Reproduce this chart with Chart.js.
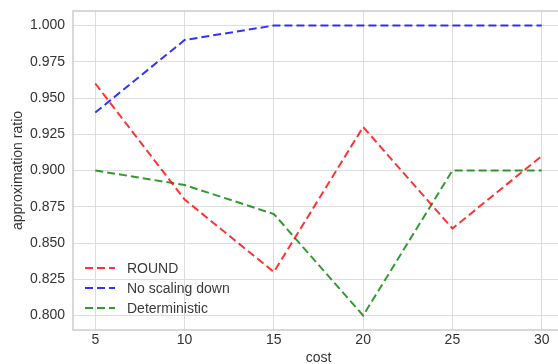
<!DOCTYPE html>
<html>
<head>
<meta charset="utf-8">
<script src="https://cdn.jsdelivr.net/npm/chart.js@4"></script>
<style>
  html, body { margin: 0; padding: 0; background: #fff; overflow: hidden; }
</style>
</head>
<body>
<canvas id="ratioChart" width="580" height="364"></canvas>
<script>
// data
const costs = [5, 10, 15, 20, 25, 30];
const roundRatio = [0.96, 0.88, 0.83, 0.93, 0.86, 0.91];
const noScalingRatio = [0.94, 0.99, 1.00, 1.00, 1.00, 1.00];
const deterministicRatio = [0.90, 0.89, 0.87, 0.80, 0.90, 0.90];
const yTicks = [0.800, 0.825, 0.850, 0.875, 0.900, 0.925, 0.950, 0.975, 1.000];

const FONT = "'Liberation Sans', Arial, sans-serif";

function toPoints(ys) {
    return costs.map((c, i) => ({x: c, y: ys[i]}));
}

function line(label, ys, color) {
    return {
        label: label,
        data: toPoints(ys),
        borderColor: color,
        backgroundColor: color,
        borderWidth: 2,
        borderDash: [8, 4],
        pointRadius: 0,
        tension: 0,
        fill: false
    };
}

// frame around the plot area (top spine too)
const framePlugin = {
    id: 'frame',
    beforeDatasetsDraw(chart) {
        const a = chart.chartArea, c = chart.ctx;
        c.save();
        c.strokeStyle = '#cccccc';
        c.lineWidth = 1.5;
        c.strokeRect(a.left, a.top, a.right - a.left, a.bottom - a.top);
        c.restore();
    }
};

// legend inside the plot, lower left, no box
const innerLegend = {
    id: 'innerLegend',
    afterDatasetsDraw(chart) {
        const a = chart.chartArea, c = chart.ctx;
        const sets = chart.data.datasets;
        c.save();
        c.font = '14px ' + FONT;
        c.textBaseline = 'middle';
        sets.forEach((ds, i) => {
            const y = a.bottom - 22 - (sets.length - 1 - i) * 20;
            const x = a.left + 12;
            c.strokeStyle = ds.borderColor;
            c.lineWidth = 2;
            c.setLineDash([8, 4]);
            c.beginPath();
            c.moveTo(x, y);
            c.lineTo(x + 30, y);
            c.stroke();
            c.setLineDash([]);
            c.fillStyle = '#3a3a3a';
            c.fillText(ds.label, x + 42, y + 1);
        });
        c.restore();
    }
};

const ctx = document.getElementById('ratioChart').getContext('2d');
new Chart(ctx, {
    type: 'line',
    data: {
        datasets: [
            line('ROUND', roundRatio, 'rgba(255, 0, 0, 0.8)'),
            line('No scaling down', noScalingRatio, 'rgba(0, 0, 255, 0.8)'),
            line('Deterministic', deterministicRatio, 'rgba(0, 128, 0, 0.8)')
        ]
    },
    options: {
        responsive: false,
        animation: false,
        layout: { padding: { top: 11, right: 16, left: 0, bottom: 0 } },
        plugins: {
            legend: { display: false },
            tooltip: { enabled: false }
        },
        scales: {
            x: {
                type: 'linear',
                min: 3.75,
                max: 31.25,
                afterBuildTicks: axis => { axis.ticks = costs.map(v => ({value: v})); },
                afterFit: s => { s.height = 34; s.paddingLeft = 0; s.paddingRight = 0; },
                grid: { color: '#dddddd', lineWidth: 1, drawTicks: false },
                border: { display: false },
                ticks: {
                    color: '#333',
                    font: { family: FONT, size: 14 },
                    padding: 2,
                    maxRotation: 0,
                    callback: v => String(v)
                },
                title: {
                    display: true,
                    text: 'cost',
                    color: '#333',
                    font: { family: FONT, size: 14 },
                    padding: { top: 0, bottom: -3 }
                }
            },
            y: {
                min: 0.79,
                max: 1.01,
                afterBuildTicks: axis => { axis.ticks = yTicks.map(v => ({value: v})); },
                afterFit: s => { s.width = 73; s.paddingTop = 0; s.paddingBottom = 0; },
                grid: { color: '#dddddd', lineWidth: 1, drawTicks: false },
                border: { display: false },
                ticks: {
                    color: '#333',
                    font: { family: FONT, size: 14 },
                    padding: 8,
                    callback: v => v.toFixed(3)
                },
                title: {
                    display: true,
                    text: 'approximation ratio',
                    color: '#333',
                    font: { family: FONT, size: 14 },
                    padding: { top: 10, bottom: 0 }
                }
            }
        }
    },
    plugins: [framePlugin, innerLegend]
});
</script>
</body>
</html>
